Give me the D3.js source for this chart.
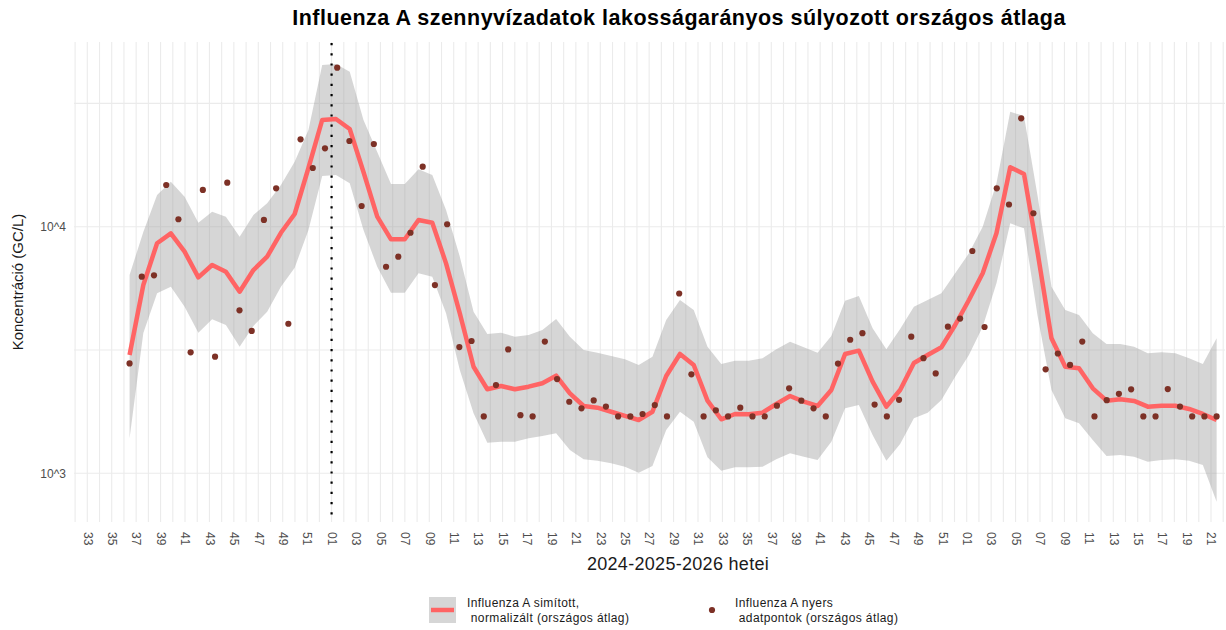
<!DOCTYPE html>
<html>
<head>
<meta charset="utf-8">
<script src="https://cdn.jsdelivr.net/npm/d3@7"></script>
<style>
    body { margin: 0; background: #fff; }
    text { font-family: "Liberation Sans", Arial, sans-serif; }
</style>
</head>
<body>
<div id="chart"></div>
<script>

// x tick labels: every other ISO week, 2024 w33 -> 2026 w21
const tickLabels = ["33","35","37","39","41","43","45","47","49","51",
    "01","03","05","07","09","11","13","15","17","19","21","23","25","27","29",
    "31","33","35","37","39","41","43","45","47","49","51",
    "01","03","05","07","09","11","13","15","17","19","21"];

// weekly raw samples (GC/L), 2024 w36 -> 2026 w21
const rawValues = [
    2790, 6270, 6350, 14760, 10720, 3095, 14090, 2970, 15080, 4580, 3780, 10650, 14310, 4040, 22620, 17300, 20790,
    44130, 22260, 12130, 21640, 6880, 7560, 9450, 17510, 5800, 10230, 3250, 3440, 1700, 2280, 3180, 1720, 1700,
    3420, 2410, 1950, 1835, 1975, 1865, 1700, 1700, 1740, 1890, 1700, 5360, 2520, 1700, 1800, 1700, 1845, 1700,
    1700, 1880, 2210, 1970, 1835, 1700, 2785, 3480, 3700, 1900, 1700, 1985, 3580, 2930, 2540, 3930, 4240,
    7970, 3920, 14310, 12300, 27520, 11340, 2640, 3060, 2750, 3420, 1700, 1980, 2100, 2190, 1700, 1700, 2195,
    1865, 1700, 1700, 1700
];

// smoothed national average (80 evenly spaced points over the sample range)
const smoothFit = [
    3018, 5800, 8570, 9400, 7920, 6230, 6990, 6570, 5450, 6670,
    7560, 9450, 11260, 17300, 27080, 27330, 24900, 16660, 10980, 8890,
    8890, 10650, 10380, 7100, 4455, 2705, 2191, 2259, 2191, 2245,
    2317, 2488, 2110, 1875, 1845, 1777, 1708, 1645, 1777, 2481,
    3047, 2749, 1970, 1656, 1740, 1737, 1761, 1910, 2058, 1952,
    1875, 2177, 3047, 3142, 2352, 1863, 2177, 2801, 3018, 3243,
    3994, 5045, 6470, 9400, 17410, 16360, 7800, 3528, 2705, 2665,
    2211, 1970, 1996, 1965, 1863, 1880, 1880, 1823, 1740, 1645
];

const smoothUpper = [
    6370, 9520, 13450, 15220, 13240, 10380, 11500, 10980, 9110, 11160,
    12440, 14760, 18350, 24670, 45260, 45670, 42510, 27080, 20090, 14900,
    14900, 17090, 16200, 11690, 7560, 4522, 3672, 3717, 3581, 3638,
    3812, 4224, 3581, 3162, 3084, 2990, 2900, 2749, 2970, 4185,
    5045, 4595, 3261, 2774, 2862, 2862, 2927, 3183, 3418, 3243,
    3084, 3605, 5010, 5236, 3873, 3183, 3848, 4738, 5045, 5370,
    6470, 7800, 10000, 15000, 29260, 28110, 13240, 5710, 4595, 4385,
    3696, 3344, 3344, 3261, 3066, 3095, 3066, 2927, 2774, 3528
];

const smoothLower = [
    1387, 3707, 5370, 5710, 4738, 3717, 4212, 3994, 3261, 3957,
    4522, 5710, 6820, 9700, 16050, 16200, 15000, 9700, 6880, 5400,
    5400, 6470, 6270, 4455, 2623, 1751, 1331, 1344, 1344, 1387,
    1417, 1453, 1243, 1140, 1125, 1098, 1064, 1006, 1071, 1498,
    1777, 1619, 1161, 1025, 1058, 1058, 1064, 1140, 1205, 1168,
    1132, 1344, 1835, 1892, 1430, 1125, 1315, 1672, 1761, 1983,
    2465, 3018, 3932, 5896, 10320, 9850, 4315, 2177, 1672, 1595,
    1365, 1175, 1186, 1168, 1115, 1132, 1140, 1125, 1081, 767
];

const yTickValues = [1000, 10000];
const yTickLabels = ["10^3", "10^4"];
const legendLabels = [
    ["Influenza A simított,", " normalizált (országos átlag)"],
    ["Influenza A nyers", " adatpontok (országos átlag)"]
];

const firstSampleWeek = 3;   // 2024 w36, counted from 2024 w33
const yearBreakWeek = 20;    // 2025 w01


class WastewaterChart {

    constructor(parentElement) {
        this.parentElement = parentElement;
        this.initVis();
    }

    initVis() {
        let vis = this;

        vis.width = 1226;
        vis.height = 630;
        vis.panel = { left: 74, right: 1225, top: 42, bottom: 522 };

        vis.svg = d3.select("#" + vis.parentElement).append("svg")
            .attr("width", vis.width)
            .attr("height", vis.height);

        // scales (week index on x, log concentration on y)
        vis.x = d3.scaleLinear()
            .domain([0, 92])
            .range([87.3, 1211]);

        vis.y = d3.scaleLog()
            .domain([634.6, 56100])
            .range([vis.panel.bottom, vis.panel.top]);

        // sample week positions (mid-week) and the smoother's own grid
        vis.sampleX = (d, i) => firstSampleWeek + i + 0.46;
        vis.smoothX = d3.scaleLinear()
            .domain([0, smoothFit.length - 1])
            .range([vis.sampleX(null, 0), vis.sampleX(null, rawValues.length - 1)]);

        vis.drawGrid();
        vis.drawAxes();
        vis.updateVis();
        vis.drawLegend();
    }

    drawGrid() {
        let vis = this;

        let grid = vis.svg.append("g").attr("class", "grid");

        grid.selectAll(".vgrid")
            .data(d3.range(-1, 94))
            .enter().append("line")
            .attr("class", "vgrid")
            .attr("x1", d => vis.x(d))
            .attr("x2", d => vis.x(d))
            .attr("y1", vis.panel.top)
            .attr("y2", vis.panel.bottom)
            .attr("stroke", "#ebebeb")
            .attr("stroke-width", 1.1);

        grid.selectAll(".hgrid")
            .data([1000, Math.sqrt(1e7), 10000, Math.sqrt(1e9)])
            .enter().append("line")
            .attr("class", "hgrid")
            .attr("x1", vis.panel.left)
            .attr("x2", vis.panel.right)
            .attr("y1", d => vis.y(d))
            .attr("y2", d => vis.y(d))
            .attr("stroke", "#ebebeb")
            .attr("stroke-width", 1.1);
    }

    drawAxes() {
        let vis = this;

        vis.xAxis = d3.axisBottom(vis.x)
            .tickValues(d3.range(0, 93, 2))
            .tickFormat((d, i) => tickLabels[i])
            .tickSize(0);

        let gx = vis.svg.append("g")
            .attr("class", "x-axis axis")
            .attr("transform", "translate(0," + vis.panel.bottom + ")")
            .call(vis.xAxis);
        gx.select(".domain").remove();
        gx.selectAll("text")
            .attr("transform", "rotate(90)")
            .attr("x", 10)
            .attr("y", 0)
            .attr("dy", "0.35em")
            .style("text-anchor", "start")
            .style("font-size", "12px")
            .style("fill", "#4d4d4d")
            .style("font-family", "'Liberation Sans', Arial, sans-serif");

        vis.yAxis = d3.axisLeft(vis.y)
            .tickValues(yTickValues)
            .tickFormat((d, i) => yTickLabels[i])
            .tickSize(0)
            .tickPadding(8);

        let gy = vis.svg.append("g")
            .attr("class", "y-axis axis")
            .attr("transform", "translate(" + vis.panel.left + ",0)")
            .call(vis.yAxis);
        gy.select(".domain").remove();
        gy.selectAll("text")
            .style("font-size", "12px")
            .style("fill", "#4d4d4d")
            .style("font-family", "'Liberation Sans', Arial, sans-serif");

        vis.svg.append("text")
            .attr("class", "title")
            .attr("x", 679)
            .attr("y", 25)
            .style("text-anchor", "middle")
            .style("font-size", "21.5px")
            .style("letter-spacing", "0.5px")
            .style("font-weight", "bold")
            .style("fill", "#000")
            .text("Influenza A szennyvízadatok lakosságarányos súlyozott országos átlaga");

        vis.svg.append("text")
            .attr("class", "x-axis-label")
            .attr("x", 678)
            .attr("y", 570)
            .style("text-anchor", "middle")
            .style("font-size", "18px")
            .style("letter-spacing", "0.3px")
            .style("fill", "#1a1a1a")
            .text("2024-2025-2026 hetei");

        vis.svg.append("text")
            .attr("class", "y-axis-label")
            .attr("transform", "rotate(-90)")
            .attr("x", -(vis.panel.top + vis.panel.bottom) / 2)
            .attr("y", 23)
            .style("text-anchor", "middle")
            .style("font-size", "15px")
            .style("fill", "#1a1a1a")
            .text("Koncentráció (GC/L)");
    }

    updateVis() {
        let vis = this;

        let area = d3.area()
            .x((d, i) => vis.x(vis.smoothX(i)))
            .y0((d, i) => vis.y(smoothLower[i]))
            .y1((d, i) => vis.y(smoothUpper[i]));

        let line = d3.line()
            .x((d, i) => vis.x(vis.smoothX(i)))
            .y(d => vis.y(d));

        vis.svg.append("path")
            .datum(smoothFit)
            .attr("class", "ribbon")
            .attr("fill", "#999999")
            .attr("fill-opacity", 0.4)
            .attr("d", area);

        vis.svg.append("path")
            .datum(smoothFit)
            .attr("class", "smooth-line")
            .attr("fill", "none")
            .attr("stroke", "#ff6464")
            .attr("stroke-width", 4.5)
            .attr("stroke-linejoin", "round")
            .attr("d", line);

        vis.svg.selectAll(".raw-point")
            .data(rawValues)
            .enter().append("circle")
            .attr("class", "raw-point")
            .attr("cx", (d, i) => vis.x(vis.sampleX(d, i)))
            .attr("cy", d => vis.y(d))
            .attr("r", 3.1)
            .attr("fill", "#7d3126");

        // season start marker
        vis.svg.append("line")
            .attr("class", "year-break")
            .attr("x1", vis.x(yearBreakWeek))
            .attr("x2", vis.x(yearBreakWeek))
            .attr("y1", vis.panel.top + 1)
            .attr("y2", vis.panel.bottom)
            .attr("stroke", "#000")
            .attr("stroke-width", 2.2)
            .attr("stroke-dasharray", "2.2 8");
    }

    drawLegend() {
        let vis = this;

        let legend = vis.svg.append("g")
            .attr("class", "legend-group");

        let item = legend.append("g")
            .attr("transform", "translate(429, 597)");

        item.append("rect")
            .attr("width", 27)
            .attr("height", 26)
            .attr("fill", "#999999")
            .attr("fill-opacity", 0.4);

        item.append("line")
            .attr("x1", 2).attr("x2", 25)
            .attr("y1", 13).attr("y2", 13)
            .attr("stroke", "#ff6464")
            .attr("stroke-width", 4.5);

        item.selectAll("text")
            .data(legendLabels[0])
            .enter().append("text")
            .attr("x", 38)
            .attr("y", (d, i) => 10 + i * 15)
            .style("font-size", "12px")
            .style("letter-spacing", "0.4px")
            .style("fill", "#1a1a1a")
            .style("white-space", "pre")
            .text(d => d);

        item = legend.append("g")
            .attr("transform", "translate(698, 597)");

        item.append("circle")
            .attr("cx", 14)
            .attr("cy", 13)
            .attr("r", 3.1)
            .attr("fill", "#7d3126");

        item.selectAll("text")
            .data(legendLabels[1])
            .enter().append("text")
            .attr("x", 37)
            .attr("y", (d, i) => 10 + i * 15)
            .style("font-size", "12px")
            .style("letter-spacing", "0.4px")
            .style("fill", "#1a1a1a")
            .style("white-space", "pre")
            .text(d => d);
    }
}

new WastewaterChart("chart");

</script>
</body>
</html>
